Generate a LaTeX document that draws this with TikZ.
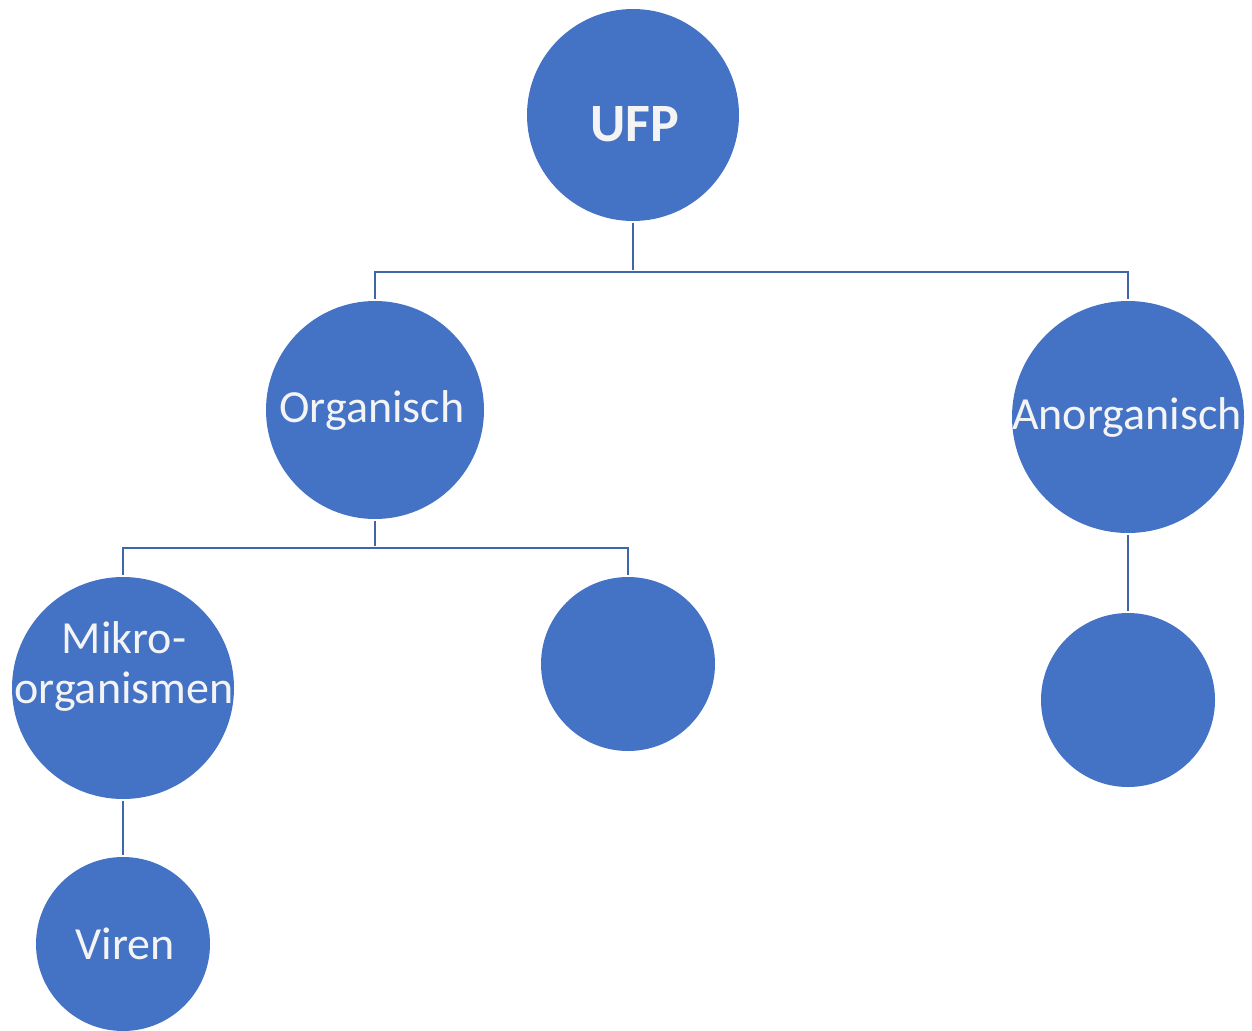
\documentclass[tikz,border=0pt]{standalone}
\usepackage{fontspec}
\setmainfont{Carlito}
\definecolor{nodeblue}{HTML}{4472C4}
\definecolor{linkblue}{HTML}{3F65AB}
\definecolor{txtwhite}{HTML}{F4F4F4}
\begin{document}
\begin{tikzpicture}[x=1pt,y=-1pt,
  bubble/.style={circle,fill=nodeblue,draw=none,inner sep=0pt},
  lbl/.style={text=txtwhite,font=\fontsize{46}{50}\selectfont,inner sep=0pt,align=center},
  link/.style={draw=linkblue,line width=2pt,shorten <=2pt,shorten >=2pt}]
\useasboundingbox (0,0) rectangle (1252,1030);
\node[bubble,minimum size=212pt] (ufp) at (633,115) {};
\node[bubble,minimum size=218pt] (org) at (375,410) {};
\node[bubble,minimum size=232pt] (anorg) at (1128,417) {};
\node[bubble,minimum size=222pt] (mikro) at (123,688) {};
\node[bubble,minimum size=174pt] (mid) at (628,664) {};
\node[bubble,minimum size=174pt] (right) at (1128,700) {};
\node[bubble,minimum size=174pt] (viren) at (123,944) {};
\node[lbl,font=\fontsize{54}{58}\selectfont\bfseries] (tufp) at (635,124) {UFP};
\node[lbl] (torg) at (372,410) {Organisch};
\node[lbl] (tanorg) at (1127,417) {Anorganisch};
\node[lbl] (tmikro) at (124,666) {Mikro-\\organismen};
\node[lbl] (tviren) at (125,944) {Viren};
\coordinate (j1) at (633,272);
\coordinate (j2) at (375,548);
\draw[link] (ufp.south) -- (j1);
\draw[link,shorten <=0pt] (j1) -| (org.north);
\draw[link,shorten <=0pt] (j1) -| (anorg.north);
\draw[link] (org.south) -- (j2);
\draw[link,shorten <=0pt] (j2) -| (mikro.north);
\draw[link,shorten <=0pt] (j2) -| (mid.north);
\draw[link] (anorg.south) -- (right.north);
\draw[link] (mikro.south) -- (viren.north);
\end{tikzpicture}
\end{document}
